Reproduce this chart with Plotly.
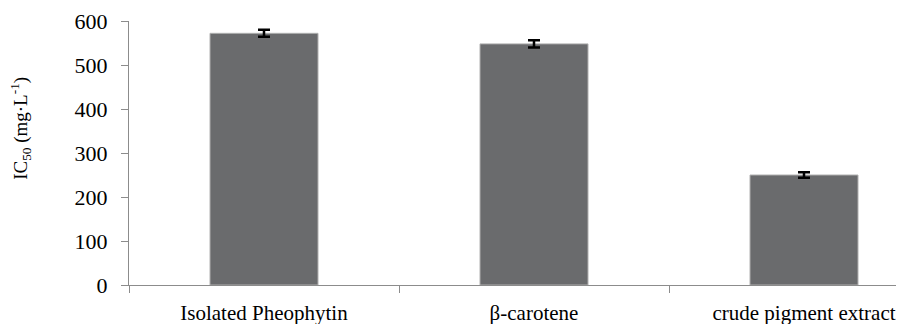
import plotly.graph_objects as go

categories = ["Isolated Pheophytin", "β-carotene", "crude pigment extract"]
ic50 = [572, 548, 250]
errors = [8, 8, 6]
y_ticks = [0, 100, 200, 300, 400, 500, 600]
y_title = "IC<sub>50</sub> (mg·L<sup>-1</sup>)"

fig = go.Figure()
fig.add_trace(go.Bar(
    x=categories, y=ic50,
    marker=dict(color="#6a6b6d", line=dict(color="#b0b0b0", width=1)),
    width=0.4,
    error_y=dict(type="data", array=errors, visible=True, color="black", thickness=2.5, width=6),
))

fig.update_layout(
    width=904, height=324,
    margin=dict(l=121, r=0, t=13, b=47),
    paper_bgcolor="white", plot_bgcolor="white",
    showlegend=False,
    font=dict(family="Liberation Serif", color="black"),
    xaxis=dict(
        range=[-0.5, 2.4], automargin=False,
        showline=True, linecolor="#8c8c8c", linewidth=1,
        ticks="outside", tickson="boundaries", ticklen=7, tickcolor="#8c8c8c",
        ticklabelstandoff=9,
        tickfont=dict(size=21, family="Liberation Serif"),
        showgrid=False,
    ),
    yaxis=dict(
        range=[0, 600], tickvals=y_ticks, automargin=False,
        showline=True, linecolor="#8c8c8c", linewidth=1,
        ticks="outside", ticklen=7, tickcolor="#8c8c8c",
        ticklabelstandoff=9,
        tickfont=dict(size=22, family="Liberation Serif"),
        showgrid=False, zeroline=False,
    ),
    annotations=[dict(
        text=y_title, textangle=-90,
        xref="paper", yref="paper", x=-0.138, y=0.595,
        xanchor="center", yanchor="middle", showarrow=False,
        font=dict(size=19, family="Liberation Serif"),
    )],
)

fig.write_html("out.html")
